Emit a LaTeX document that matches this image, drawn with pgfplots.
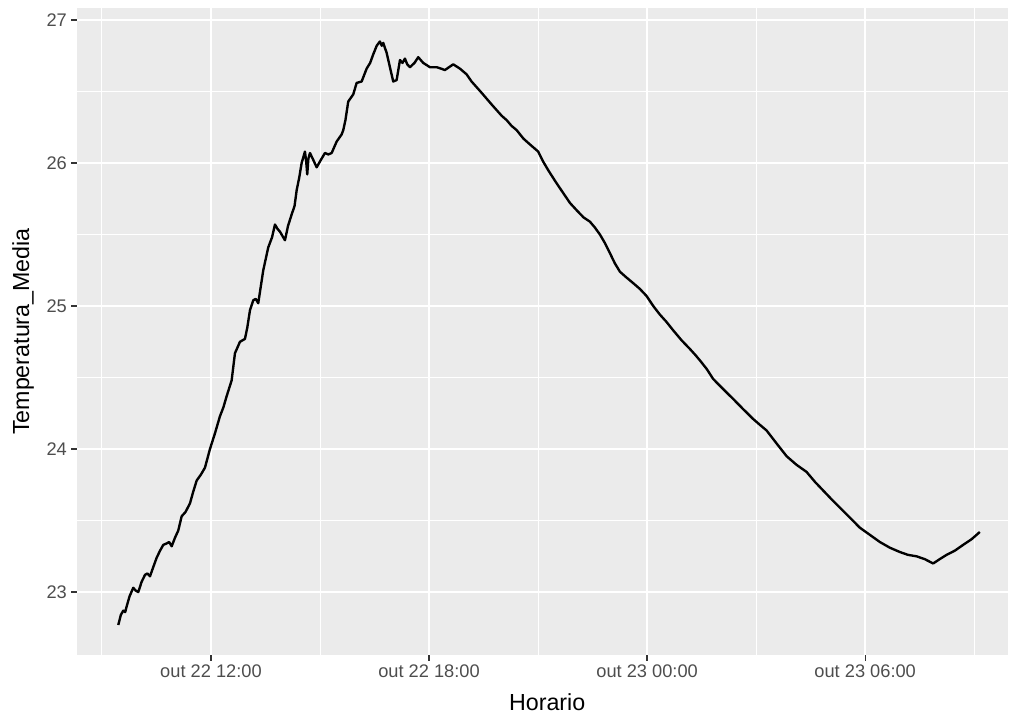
\documentclass[border=0pt]{standalone}
\usepackage{fontspec}
\setmainfont{Liberation Sans}
\usepackage{pgfplots}
\pgfplotsset{compat=1.18}
\definecolor{panelbg}{HTML}{EBEBEB}
\definecolor{gray30}{HTML}{4D4D4D}
\definecolor{gray20}{HTML}{333333}
\begin{document}
\begin{tikzpicture}
\begin{axis}[
  scale only axis, width=744.8pt, height=517.6pt,
  xmin=8.314, xmax=33.93, ymin=22.56, ymax=27.084,
  axis background/.style={fill=panelbg},
  axis line style={draw=none},
  xtick={12,18,24,30},
  xticklabels={out 22 12:00, out 22 18:00, out 23 00:00, out 23 06:00},
  minor xtick={9,15,21,27,33},
  ytick={23,24,25,26,27},
  minor ytick={23.5,24.5,25.5,26.5},
  grid=both,
  major grid style={white, line width=1.5pt},
  minor grid style={white, line width=0.75pt},
  tick style={gray20, line width=1pt},
  major tick length=4.6pt, minor tick length=0pt,
  tick align=outside, tick pos=left,
  ticklabel style={font=\fontsize{14.6}{17}\selectfont, text=gray30},
  /pgf/number format/assume math mode=true,
  xlabel={Horario}, ylabel={Temperatura\_Media},
  label style={font=\fontsize{18.6}{22}\selectfont},
  xlabel style={at={(axis description cs:0.505,-0.0726)}, anchor=center},
  ylabel style={at={(axis description cs:-0.058,0.5)}, anchor=center},
  clip=true,
]
\addplot[black, line width=1.9pt, line join=round] coordinates {
(9.450,22.77) (9.520,22.84) (9.587,22.87) (9.640,22.86) (9.681,22.90) (9.760,22.97)
(9.862,23.03) (9.930,23.01) (10.000,23.00) (10.090,23.07) (10.184,23.12) (10.250,23.13)
(10.322,23.11) (10.420,23.18) (10.506,23.24) (10.600,23.29) (10.688,23.33) (10.781,23.34)
(10.850,23.35) (10.919,23.32) (11.010,23.38) (11.100,23.43) (11.194,23.53) (11.300,23.56)
(11.422,23.62) (11.510,23.70) (11.607,23.78) (11.720,23.82) (11.835,23.87) (11.972,24.00)
(12.110,24.11) (12.248,24.23) (12.340,24.29) (12.432,24.37) (12.569,24.48) (12.660,24.67)
(12.798,24.75) (12.935,24.77) (13.000,24.85) (13.073,24.97) (13.164,25.04) (13.230,25.05)
(13.301,25.02) (13.439,25.25) (13.576,25.41) (13.680,25.48) (13.761,25.57) (13.830,25.54)
(13.898,25.52) (14.036,25.46) (14.120,25.56) (14.220,25.64) (14.300,25.70) (14.358,25.81)
(14.430,25.90) (14.495,26.00) (14.586,26.08) (14.620,26.01) (14.649,25.92) (14.680,26.03)
(14.724,26.07) (14.800,26.03) (14.908,25.97) (15.020,26.02) (15.136,26.07) (15.230,26.06)
(15.321,26.07) (15.458,26.15) (15.596,26.20) (15.640,26.23) (15.700,26.30) (15.777,26.43)
(15.915,26.48) (16.008,26.56) (16.146,26.57) (16.283,26.66) (16.380,26.70) (16.465,26.76)
(16.560,26.82) (16.649,26.85) (16.700,26.82) (16.740,26.84) (16.834,26.77) (16.924,26.67)
(17.015,26.57) (17.109,26.58) (17.200,26.72) (17.270,26.70) (17.337,26.73) (17.400,26.69)
(17.475,26.67) (17.600,26.70) (17.703,26.74) (17.840,26.70) (18.025,26.67) (18.209,26.67)
(18.330,26.66) (18.437,26.65) (18.550,26.67) (18.666,26.69) (18.850,26.66) (19.034,26.62)
(19.170,26.57) (19.310,26.53) (19.450,26.49) (19.585,26.45) (19.720,26.41) (19.860,26.37)
(20.000,26.33) (20.135,26.30) (20.270,26.26) (20.410,26.23) (20.600,26.17) (20.776,26.13)
(21.004,26.08) (21.140,26.01) (21.279,25.95) (21.480,25.87) (21.692,25.79) (21.880,25.72)
(22.061,25.67) (22.250,25.62) (22.426,25.59) (22.560,25.55) (22.702,25.50) (22.840,25.44)
(22.977,25.37) (23.110,25.30) (23.252,25.24) (23.430,25.20) (23.618,25.16) (23.800,25.12)
(23.986,25.07) (24.170,25.00) (24.352,24.94) (24.530,24.89) (24.718,24.83) (24.950,24.76)
(25.177,24.70) (25.320,24.66) (25.453,24.62) (25.640,24.56) (25.818,24.49) (26.090,24.42)
(26.369,24.35) (26.640,24.28) (26.919,24.21) (27.100,24.17) (27.287,24.13) (27.560,24.04)
(27.838,23.95) (28.110,23.89) (28.388,23.84) (28.620,23.77) (28.845,23.71) (29.070,23.65)
(29.304,23.59) (29.580,23.52) (29.854,23.45) (30.130,23.40) (30.404,23.35) (30.680,23.31)
(30.955,23.28) (31.180,23.26) (31.414,23.25) (31.640,23.23) (31.871,23.20) (32.050,23.23)
(32.239,23.26) (32.470,23.29) (32.696,23.33) (32.930,23.37) (33.155,23.42)
};
\end{axis}
\path (current axis.south west) ++(-61.6pt,-46.4pt) coordinate (bbsw);
\path (current axis.north east) ++(5.6pt,6.4pt) coordinate (bbne);
\useasboundingbox (bbsw) rectangle (bbne);
\end{tikzpicture}
\end{document}
